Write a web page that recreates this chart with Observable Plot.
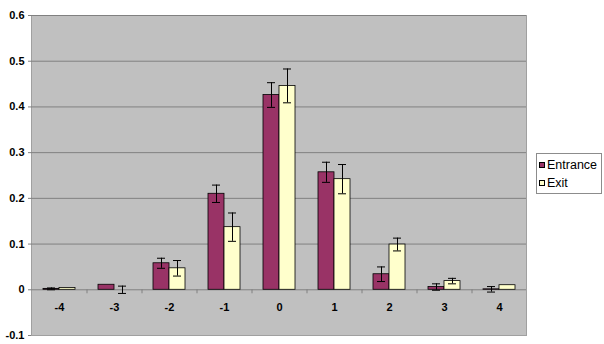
<!DOCTYPE html>
<html>
<head>
<meta charset="utf-8">
<script src="https://cdn.jsdelivr.net/npm/d3@7"></script>
<script src="https://cdn.jsdelivr.net/npm/@observablehq/plot@0.6"></script>
<style>
  body { margin: 0; background: #fff; font-family: "Liberation Sans", Arial, sans-serif; }
  #wrap { position: relative; width: 604px; height: 344px; overflow: hidden; }
  #legend { position: absolute; left: 536px; top: 153px; width: 66px; height: 41px; border: 1px solid #8c8c8c; background: #fff; font-size: 12.5px; color: #000; box-sizing: border-box; }
  .item { position: absolute; left: 2px; display: flex; align-items: center; height: 14px; white-space: nowrap; }
  .sw { width: 4px; height: 4px; border: 1px solid #000; margin-right: 2px; }
</style>
</head>
<body>
<div id="wrap">
  <div id="chart"></div>
  <div id="legend"></div>
</div>
<script>
const categories = [-4, -3, -2, -1, 0, 1, 2, 3, 4];
const seriesNames = ["Entrance", "Exit"];
const seriesColors = ["#993366", "#ffffcc"];
const entrance = [0.002, 0.011, 0.058, 0.210, 0.426, 0.257, 0.034, 0.006, 0.001];
const entranceErr = [0.002, 0, 0.011, 0.019, 0.027, 0.022, 0.016, 0.007, 0.006];
const exit = [0.004, 0, 0.047, 0.137, 0.446, 0.242, 0.099, 0.019, 0.010];
const exitErr = [0, 0.008, 0.017, 0.031, 0.037, 0.032, 0.014, 0.006, 0];
const yTicks = [-0.1, 0, 0.1, 0.2, 0.3, 0.4, 0.5, 0.6];

const W = 604, H = 344, mL = 31, mR = 78, mT = 15, mB = 9;
const padIn = 23 / 55;
const step = (W - mL - mR) / categories.length;
const bw = step * (1 - padIn);

const rows = (vals, errs) => categories.map((c, i) => ({cat: c, value: vals[i], err: errs[i], lo: vals[i] - errs[i], hi: vals[i] + errs[i]}));
const ent = rows(entrance, entranceErr);
const ex = rows(exit, exitErr);
const entE = ent.filter(d => d.err > 0);
const exE = ex.filter(d => d.err > 0);

const cap = 4;
const chart = Plot.plot({
  width: W, height: H,
  marginLeft: mL, marginRight: mR, marginTop: mT, marginBottom: mB,
  style: {fontFamily: "'Liberation Sans', Arial, sans-serif", fontSize: "11px", color: "#000", background: "transparent", overflow: "visible"},
  x: {type: "band", domain: categories, paddingInner: padIn, paddingOuter: padIn / 2, axis: null},
  y: {domain: [-0.1, 0.6], axis: null},
  marks: [
    Plot.frame({fill: "#c0c0c0", stroke: "#a0a0a0"}),
    Plot.ruleY(yTicks.filter(d => d > 0), {stroke: "#808080", strokeWidth: 1}),
    Plot.ruleY([0], {stroke: "#808080", strokeWidth: 1}),
    Plot.ruleX(categories.slice(0, -1), {x: d => d, y1: 0, y2: 0, dx: step / 2, insetTop: 0, insetBottom: -4, stroke: "#808080"}),
    Plot.barY(ent, {x: "cat", y: "value", fill: seriesColors[0], stroke: "#000", strokeWidth: 0.8, insetRight: bw / 2}),
    Plot.barY(ex, {x: "cat", y: "value", fill: seriesColors[1], stroke: "#000", strokeWidth: 0.8, insetLeft: bw / 2}),
    Plot.ruleX(entE, {x: "cat", y1: "lo", y2: "hi", dx: -bw / 4, stroke: "#000", strokeWidth: 1}),
    Plot.tickY(entE, {x: "cat", y: "lo", insetLeft: bw / 4 - cap, insetRight: 3 * bw / 4 - cap, stroke: "#000"}),
    Plot.tickY(entE, {x: "cat", y: "hi", insetLeft: bw / 4 - cap, insetRight: 3 * bw / 4 - cap, stroke: "#000"}),
    Plot.ruleX(exE, {x: "cat", y1: "lo", y2: "hi", dx: bw / 4, stroke: "#000", strokeWidth: 1}),
    Plot.tickY(exE, {x: "cat", y: "lo", insetLeft: 3 * bw / 4 - cap, insetRight: bw / 4 - cap, stroke: "#000"}),
    Plot.tickY(exE, {x: "cat", y: "hi", insetLeft: 3 * bw / 4 - cap, insetRight: bw / 4 - cap, stroke: "#000"}),
    Plot.text(categories, {x: d => d, y: 0, dy: 18, text: d => String(d), fill: "#000", fontSize: 11, fontWeight: "bold"}),
    Plot.axisY({ticks: yTicks, tickFormat: d => String(d), tickSize: 3, tickPadding: 4, stroke: "#808080", fill: "#000", fontSize: 11, fontWeight: "bold"})
  ]
});
document.getElementById("chart").appendChild(chart);

const legend = document.getElementById("legend");
seriesNames.forEach((name, i) => {
  const item = document.createElement("div");
  item.className = "item";
  item.style.top = (4 + i * 18) + "px";
  const sw = document.createElement("span");
  sw.className = "sw";
  sw.style.background = seriesColors[i];
  const t = document.createElement("span");
  t.textContent = name;
  item.appendChild(sw);
  item.appendChild(t);
  legend.appendChild(item);
});
</script>
</body>
</html>
